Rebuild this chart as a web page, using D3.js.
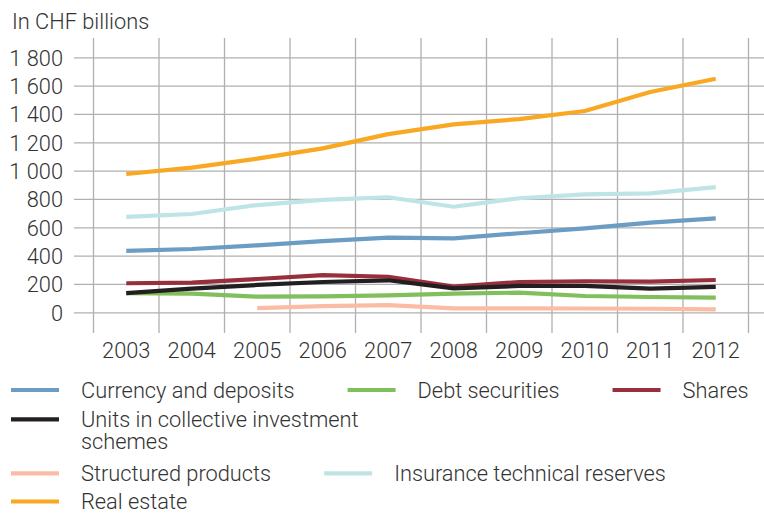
<!DOCTYPE html>
<html>
<head>
<meta charset="utf-8">
<script src="https://cdn.jsdelivr.net/npm/d3@7"></script>
<style>
  body { margin: 0; background: #fff; }
  svg text { font-family: Roboto, "Liberation Sans", Arial, sans-serif; font-weight: 300; fill: #333; }
</style>
</head>
<body>
<div id="chart"></div>
<script>
// Data (in CHF billions)
const years = ["2003", "2004", "2005", "2006", "2007", "2008", "2009", "2010", "2011", "2012"];
const currencyDeposits = [433, 447, 473, 503, 527, 522, 558, 593, 633, 663];
const debtSecurities   = [136, 132, 110, 113, 120, 132, 139, 115, 108, 103];
const shares           = [205, 209, 235, 263, 251, 181, 214, 219, 216, 228];
const unitsCIS         = [136, 167, 193, 214, 226, 169, 186, 186, 167, 179];
const structuredProds  = [null, null, 30, 44, 51, 28, 28, 27, 25, 21];
const insuranceRes     = [673, 694, 757, 793, 812, 745, 805, 833, 840, 884];
const realEstate       = [976, 1021, 1085, 1157, 1258, 1327, 1364, 1421, 1555, 1649];

const yTicks = [0, 200, 400, 600, 800, 1000, 1200, 1400, 1600, 1800];
const yTitle = "In CHF billions";

const series = [
  { name: ["Currency and deposits"], values: currencyDeposits, color: "#6b9cc3" },
  { name: ["Debt securities"], values: debtSecurities, color: "#80bf5b" },
  { name: ["Shares"], values: shares, color: "#982f3c" },
  { name: ["Units in collective investment", "schemes"], values: unitsCIS, color: "#231f20" },
  { name: ["Structured products"], values: structuredProds, color: "#fbbca6" },
  { name: ["Insurance technical reserves"], values: insuranceRes, color: "#bfe4e6" },
  { name: ["Real estate"], values: realEstate, color: "#f8a823" }
];

const width = 764, height = 513;
const fontSize = "21.8px";

const svg = d3.select("#chart")
  .append("svg")
    .attr("width", width)
    .attr("height", height);

// scales
const x = d3.scaleBand().domain(years).range([93.5, 748.5]);
const y = d3.scaleLinear().domain([0, 1800]).range([312.3, 57.3]);
const gridTop = 38, gridBottom = 333, gridLeft = 74, gridRight = 764;

const fmt = d3.formatLocale({ decimal: ".", thousands: " ", grouping: [3] }).format(",d");

// vertical grid at band edges
const edges = years.map(d => x(d)).concat([x.range()[1]]);
svg.append("g")
  .selectAll("line")
  .data(edges)
  .join("line")
    .attr("x1", d => d).attr("x2", d => d)
    .attr("y1", gridTop).attr("y2", gridBottom)
    .attr("stroke", "#b0b0b0")
    .attr("stroke-width", 1.3);

// y axis with horizontal grid
const yAxis = svg.append("g")
  .attr("transform", "translate(" + gridLeft + ",0)")
  .call(d3.axisLeft(y).tickValues(yTicks).tickFormat(fmt).tickSize(-(gridRight - gridLeft)).tickPadding(11));
yAxis.select(".domain").remove();
yAxis.selectAll(".tick line").attr("stroke", "#b0b0b0").attr("stroke-width", 1.3);
yAxis.selectAll(".tick text")
  .style("font-size", fontSize)
  .style("font-family", null)
  .attr("fill", null)
  .attr("dy", "0.36em");

// x axis labels
const xAxis = svg.append("g")
  .attr("transform", "translate(0,340)")
  .call(d3.axisBottom(x).tickSize(0).tickPadding(0));
xAxis.select(".domain").remove();
xAxis.selectAll(".tick text")
  .style("font-size", fontSize)
  .attr("fill", null)
  .attr("dy", null)
  .attr("y", 18.3);

// title
svg.append("text")
  .attr("x", 12)
  .attr("y", 29)
  .style("font-size", fontSize)
  .text(yTitle);

// lines
const line = d3.line()
  .defined(d => d != null)
  .x((d, i) => x(years[i]) + x.bandwidth() / 2)
  .y(d => y(d));

svg.append("g")
  .selectAll("path")
  .data(series)
  .join("path")
    .attr("fill", "none")
    .attr("stroke", d => d.color)
    .attr("stroke-width", 4.2)
    .attr("stroke-linejoin", "round")
    .attr("d", d => line(d.values));

// legend (flow layout)
const legendRows = [[0, 1, 2], [3], [4, 5], [6]];
const rowY = [390, 419.3, 473.3, 501.5];
const legend = svg.append("g");
legendRows.forEach((row, r) => {
  let cx = 11;
  row.forEach(idx => {
    const s = series[idx];
    legend.append("line")
      .attr("x1", cx).attr("x2", cx + 48)
      .attr("y1", rowY[r]).attr("y2", rowY[r])
      .attr("stroke", s.color)
      .attr("stroke-width", 4.2);
    const t = legend.append("text")
      .attr("x", cx + 70)
      .attr("y", rowY[r] + 7.5)
      .style("font-size", fontSize);
    s.name.forEach((ln, k) => {
      t.append("tspan")
        .attr("x", cx + 70)
        .attr("dy", k === 0 ? 0 : 22.5)
        .text(ln);
    });
    const w = d3.max(t.selectAll("tspan").nodes(), n => n.getComputedTextLength());
    cx = cx + 70 + w + 53;
  });
});
</script>
</body>
</html>
